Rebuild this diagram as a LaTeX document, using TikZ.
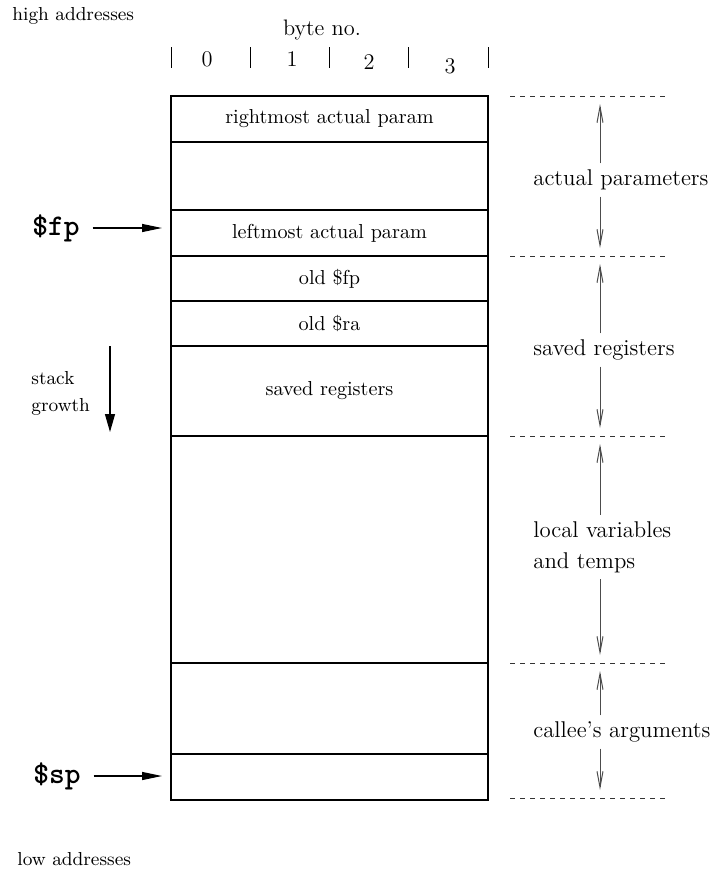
\documentclass[tikz,border=0pt]{standalone}
\usepackage{fontspec}
\usetikzlibrary{arrows.meta,positioning}
\begin{document}
\begin{tikzpicture}[x=0.5pt,y=-0.5pt,
cell/.style={draw, line width=0.6pt, minimum width=158.5pt, inner sep=0pt, outer sep=0pt, font=\fontsize{10.1}{12}\selectfont},
small/.style={anchor=west, inner sep=0pt, align=left, font=\fontsize{9.4}{13.5}\selectfont},
side/.style={anchor=west, inner sep=3pt, align=left, font=\fontsize{11.4}{15.5}\selectfont},
digit/.style={font=\fontsize{11.2}{13}\selectfont},
reg/.style={font=\ttfamily\bfseries\fontsize{15}{17}\selectfont},
span/.style={draw=black!70, line width=0.5pt, -{Straight Barb[length=8pt,width=3pt]}, shorten >=4pt},
ptr/.style={line width=0.6pt, -{Triangle[length=10pt,width=4pt]}, shorten <=3pt, shorten >=4.5pt},
sep/.style={draw=black!80, line width=0.4pt, dash pattern=on 2.5pt off 2.5pt}]
\useasboundingbox (0,0) rectangle (722,873);
\node[small] (high) at (12,16) {high addresses};
\node[small] (low) at (17,859) {low addresses};
\node[digit] (byte) at (322,30) {byte no.};
\foreach \x in {171,250,329,408,488} \draw[line width=0.5pt] (\x,47) -- (\x,68);
\node[digit] (b0) at (207,59) {0};
\node[digit] (b1) at (292,59) {1};
\node[digit] (b2) at (369,62) {2};
\node[digit] (b3) at (450,66) {3};
\node[cell, minimum height=23pt] (r1) at (329.5,119) {rightmost actual param};
\node[cell, minimum height=34pt, below=0pt of r1] (r2) {};
\node[cell, minimum height=23pt, below=0pt of r2] (r3) {leftmost actual param};
\node[cell, minimum height=22.5pt, below=0pt of r3] (r4) {old \$fp};
\node[cell, minimum height=22.5pt, below=0pt of r4] (r5) {old \$ra};
\node[cell, minimum height=45pt, below=0pt of r5] (r6) {saved registers};
\node[cell, minimum height=113.5pt, below=0pt of r6] (r7) {};
\node[cell, minimum height=45.5pt, below=0pt of r7] (r8) {};
\node[cell, minimum height=23pt, below=0pt of r8] (r9) {};
\node[reg] (fp) at (56,228) {\$fp};
\node[reg] (sp) at (57,776) {\$sp};
\draw[ptr] (fp.east) -- (fp.east -| r3.west);
\draw[ptr] (sp.east) -- (sp.east -| r9.west);
\node[small] (grow) at (31,393) {stack\\growth};
\coordinate (g1) at (110,346);
\coordinate (g2) at (110,432);
\draw[line width=0.6pt, -{Triangle[length=9pt,width=5pt]}] (g1) -- (g2);
\foreach \y [count=\i] in {96,256,436,663,798} {\draw[sep] (510,\y) -- (668,\y); \coordinate (e\i) at (600,\y);}
\node[side] (actp) at (527,180) {actual parameters};
\node[side] (savr) at (527,350) {saved registers};
\node[side] (locv) at (527,547) {local variables\\and temps};
\node[side] (call) at (527,732) {callee's arguments};
\draw[span] (actp.north -| e1) -- (e1);
\draw[span] (actp.south -| e2) -- (e2);
\draw[span] (savr.north -| e2) -- (e2);
\draw[span] (savr.south -| e3) -- (e3);
\draw[span] (locv.north -| e3) -- (e3);
\draw[span] (locv.south -| e4) -- (e4);
\draw[span] (call.north -| e4) -- (e4);
\draw[span] (call.south -| e5) -- (e5);
\end{tikzpicture}
\end{document}
